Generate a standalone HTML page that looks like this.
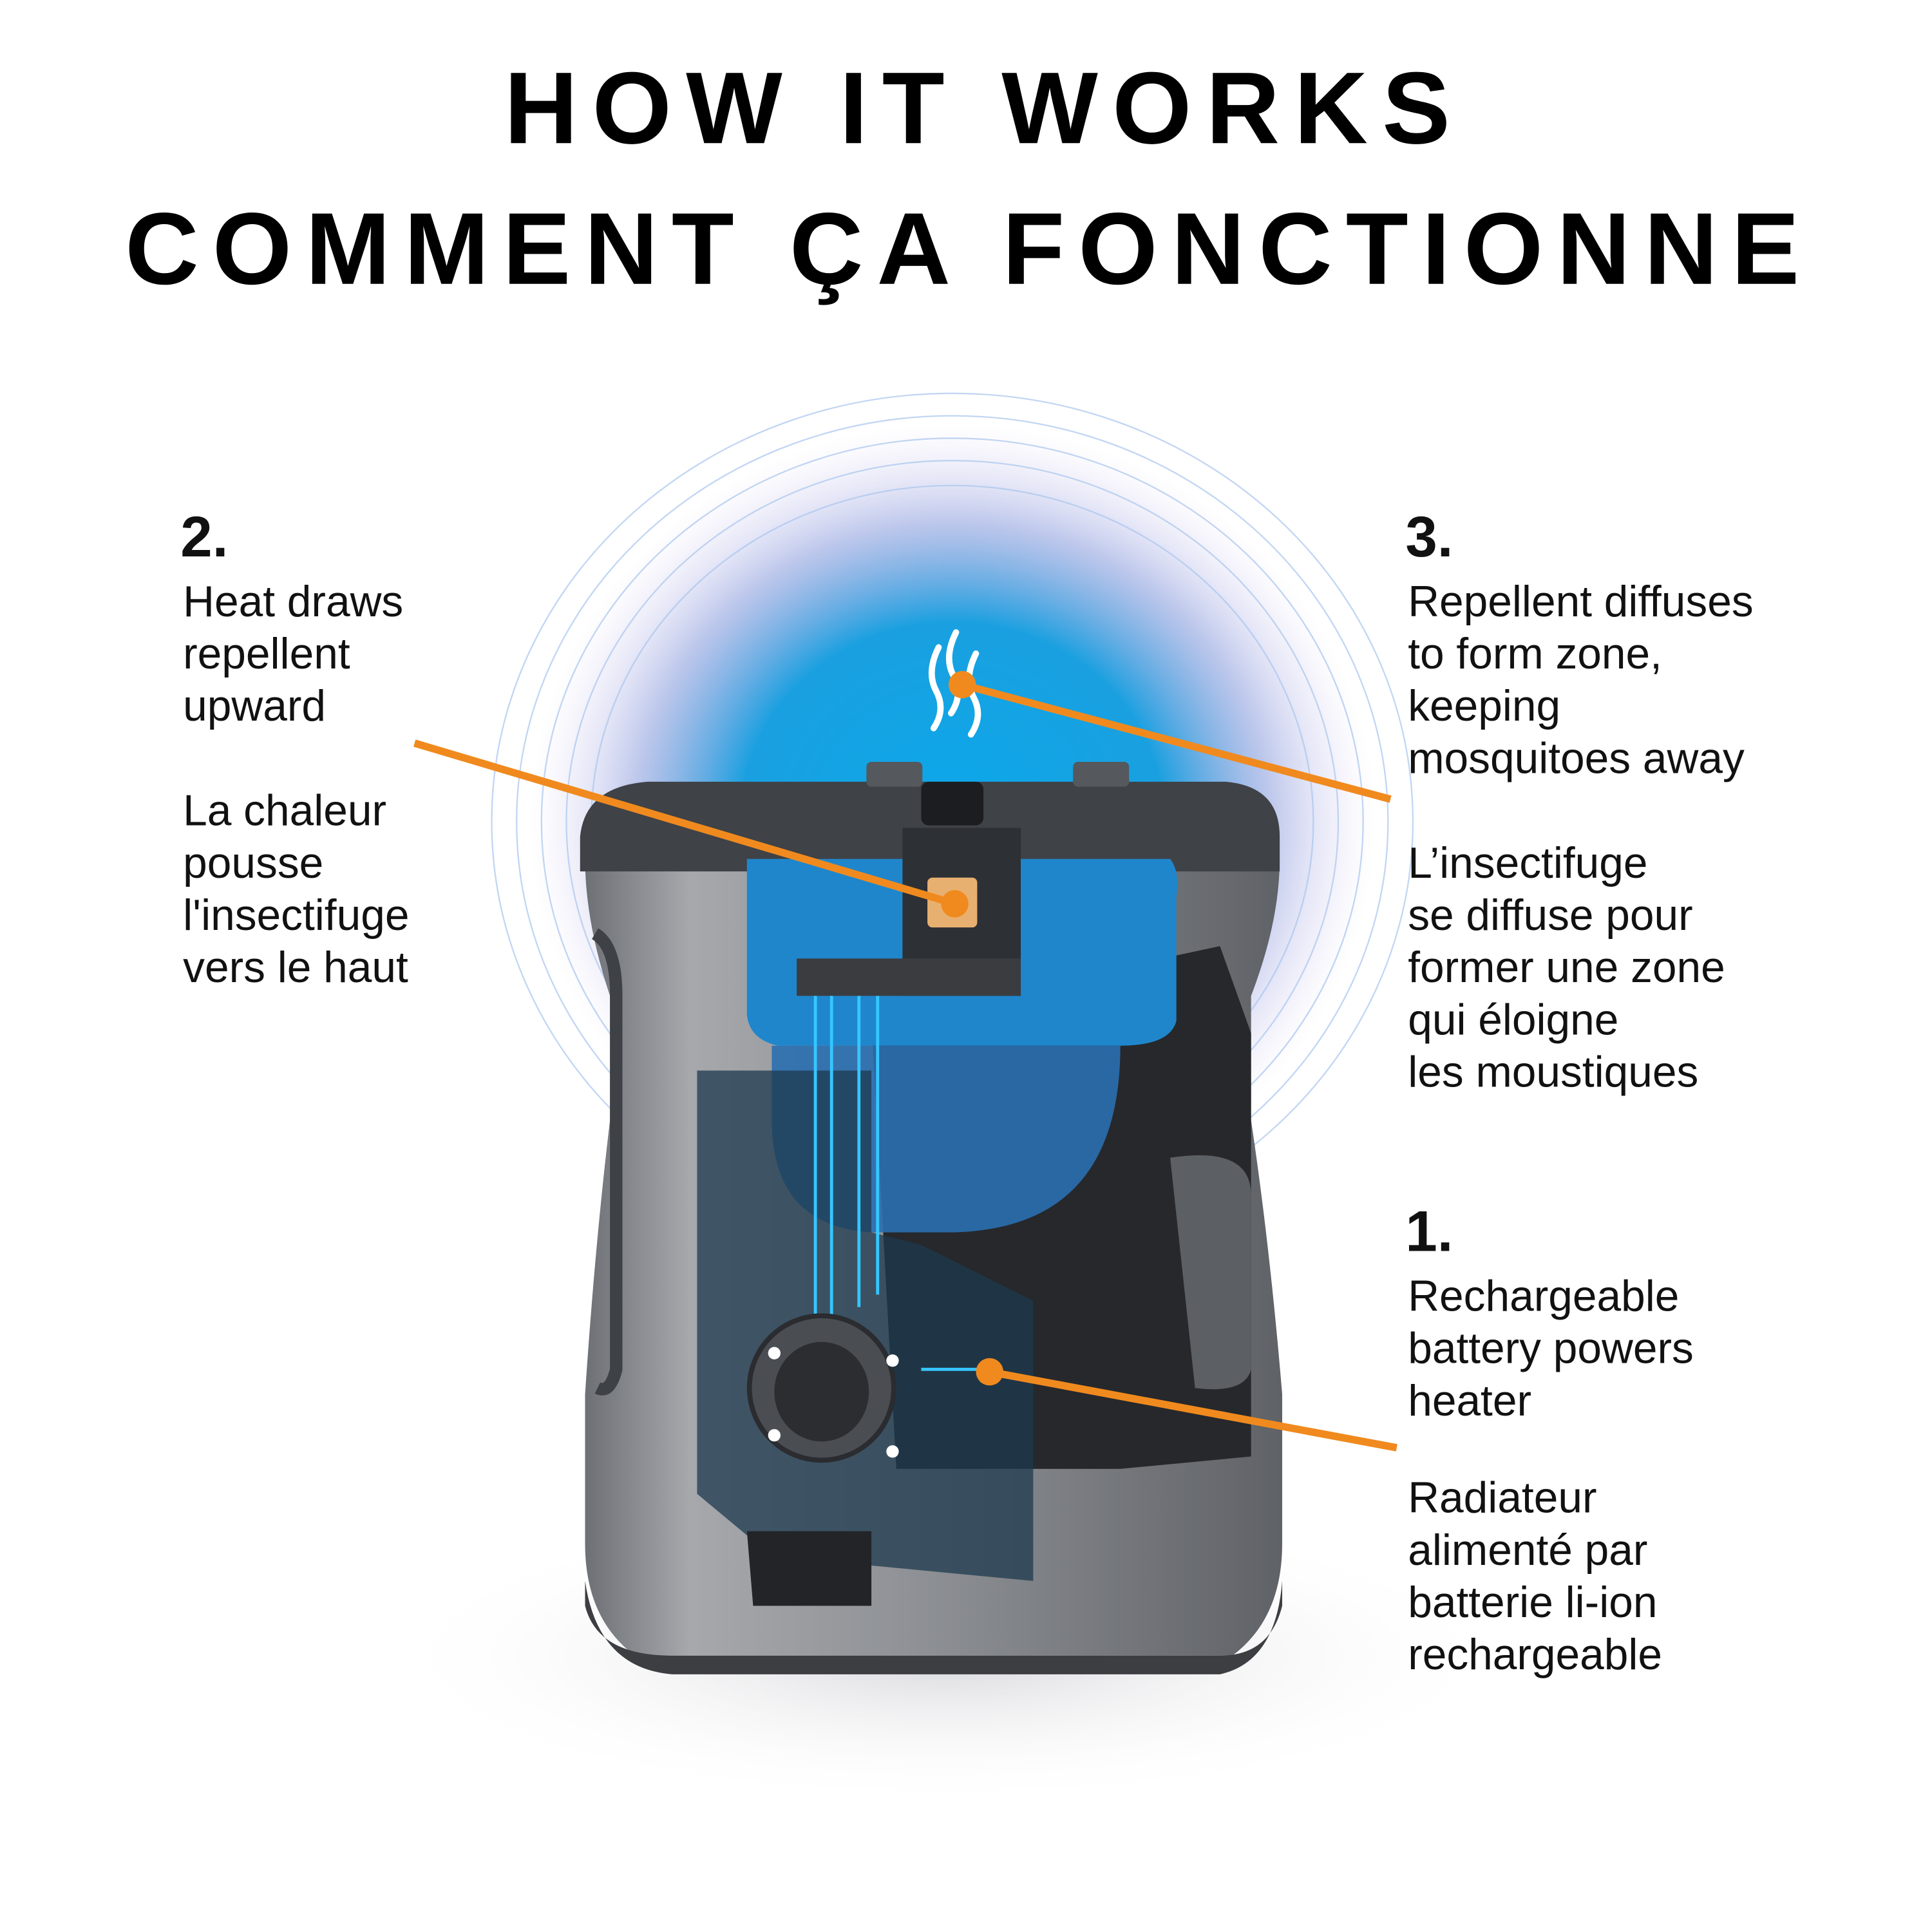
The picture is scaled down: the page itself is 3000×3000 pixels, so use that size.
<!DOCTYPE html>
<html><head><meta charset="utf-8"><style>html,body{margin:0;padding:0;background:#fff}svg{display:block}</style></head>
<body>
<svg width="3000" height="3000" viewBox="0 0 1552 1552" xmlns="http://www.w3.org/2000/svg" font-family="Liberation Sans, sans-serif">
<defs>
<radialGradient id="glow" cx="0.5" cy="0.5" r="0.5">
<stop offset="0" stop-color="#0aa8ea"/><stop offset="0.5" stop-color="#1aa0e0"/><stop offset="0.75" stop-color="#7a8fd8" stop-opacity="0.5"/><stop offset="1" stop-color="#d9c8f0" stop-opacity="0"/>
</radialGradient>
<radialGradient id="shadow" cx="0.5" cy="0.5" r="0.5"><stop offset="0" stop-color="#d8d8dc"/><stop offset="1" stop-color="#fff" stop-opacity="0"/></radialGradient>
<linearGradient id="body" x1="0" x2="1"><stop offset="0" stop-color="#6d7075"/><stop offset="0.15" stop-color="#a6a8ac"/><stop offset="0.5" stop-color="#8c8f93"/><stop offset="1" stop-color="#5f6266"/></linearGradient>
</defs>
<rect width="1552" height="1552" fill="#fff"/>
<ellipse cx="760" cy="1330" rx="460" ry="120" fill="url(#shadow)"/>
<ellipse cx="765" cy="660" rx="340" ry="320" fill="url(#glow)"/>
<g fill="none" stroke="#a9c6ee" stroke-width="1.2" opacity="0.7">
<ellipse cx="765" cy="660" rx="290" ry="270"/><ellipse cx="765" cy="660" rx="310" ry="290"/><ellipse cx="765" cy="660" rx="330" ry="308"/><ellipse cx="765" cy="660" rx="350" ry="326"/><ellipse cx="765" cy="660" rx="370" ry="344"/>
</g>
<text x="785" y="115" text-anchor="middle" font-size="82" font-weight="bold" textLength="760" lengthAdjust="spacing" fill="#000">HOW IT WORKS</text>
<text x="773" y="228" text-anchor="middle" font-size="82" font-weight="bold" textLength="1345" lengthAdjust="spacing" fill="#000">COMMENT ÇA FONCTIONNE</text>
<g font-size="35" fill="#111">
<text x="145" y="447" font-size="46" font-weight="bold">2.</text>
<text x="147" y="495">Heat draws</text><text x="147" y="537">repellent</text><text x="147" y="579">upward</text>
<text x="147" y="663">La chaleur</text><text x="147" y="705">pousse</text><text x="147" y="747">l'insectifuge</text><text x="147" y="789">vers le haut</text>
<text x="1129" y="447" font-size="46" font-weight="bold">3.</text>
<text x="1131" y="495">Repellent diffuses</text><text x="1131" y="537">to form zone,</text><text x="1131" y="579">keeping</text><text x="1131" y="621">mosquitoes away</text>
<text x="1131" y="705">L’insectifuge</text><text x="1131" y="747">se diffuse pour</text><text x="1131" y="789">former une zone</text><text x="1131" y="831">qui éloigne</text><text x="1131" y="873">les moustiques</text>
<text x="1129" y="1005" font-size="46" font-weight="bold">1.</text>
<text x="1131" y="1053">Rechargeable</text><text x="1131" y="1095">battery powers</text><text x="1131" y="1137">heater</text>
<text x="1131" y="1215">Radiateur</text><text x="1131" y="1257">alimenté par</text><text x="1131" y="1299">batterie li-ion</text><text x="1131" y="1341">rechargeable</text>
</g>
<path d="M470 1240 L470 1120 Q478 1000 490 900 Q490 830 490 800 Q470 740 470 690 L1028 690 Q1028 740 1005 800 Q1005 830 1005 900 Q1020 1000 1030 1120 L1030 1240 Q1030 1300 990 1330 L510 1330 Q470 1300 470 1240 Z" fill="url(#body)"/>
<path d="M470 1270 Q480 1340 540 1345 L980 1345 Q1025 1335 1030 1270 L1030 1290 Q1020 1330 980 1330 L540 1330 Q480 1330 470 1290Z" fill="#3c3e42"/>
<path d="M466 672 Q470 632 520 628 L985 628 Q1028 632 1028 672 L1028 700 L466 700 Z" fill="#3f4246"/>
<rect x="696" y="612" width="45" height="20" rx="4" fill="#55585c"/><rect x="862" y="612" width="45" height="20" rx="4" fill="#55585c"/>
<rect x="740" y="628" width="50" height="35" rx="6" fill="#1c1d20"/>
<path d="M700 820 L980 760 L1005 830 L1005 1170 L900 1180 L720 1180 Z" fill="#26282c"/>
<path d="M940 930 Q1005 920 1005 960 L1005 1100 Q1000 1120 960 1115 Z" fill="#5c5f63"/>
<path d="M600 690 L940 690 Q948 700 945 720 L945 820 Q940 840 900 840 L625 840 Q602 835 600 815 Z" fill="#1f86cc"/>
<path d="M620 840 L900 840 Q900 990 760 990 L700 990 Q620 985 620 900 Z" fill="#2a6fb0" opacity="0.9"/>
<path d="M725 665 L820 665 L820 800 L725 800 Z" fill="#2d3035"/>
<rect x="745" y="705" width="40" height="40" rx="4" fill="#e8b070"/>
<path d="M640 770 L820 770 L820 800 L640 800Z" fill="#3a3c40"/>
<path d="M560 860 L700 860 L700 990 L740 1000 L830 1045 L830 1270 L620 1250 L560 1200 Z" fill="#1e3a4e" opacity="0.75"/>
<g stroke="#36c6ff" stroke-width="2.5" fill="none">
<path d="M655 800 L655 1060"/><path d="M668 800 L668 1060"/><path d="M690 800 L690 1050"/><path d="M705 800 L705 1040"/><path d="M740 1100 L790 1100"/>
</g>
<circle cx="660" cy="1115" r="58" fill="#4a4d52" stroke="#2a2c30" stroke-width="4"/>
<ellipse cx="660" cy="1118" rx="38" ry="40" fill="#2b2d31"/>
<g fill="#fff"><circle cx="622" cy="1087" r="5"/><circle cx="717" cy="1093" r="5"/><circle cx="622" cy="1153" r="5"/><circle cx="717" cy="1166" r="5"/></g>
<path d="M600 1230 L700 1230 L700 1290 L605 1290 Z" fill="#222428"/>
<path d="M478 750 Q495 760 495 800 L495 1100 Q490 1120 480 1115" fill="none" stroke="#3e4145" stroke-width="10"/>
<g fill="none" stroke="#fff" stroke-width="5" stroke-linecap="round">
<path d="M754 520 Q744 540 752 555 Q760 570 750 585"/><path d="M768 508 Q758 528 766 543 Q774 558 764 573"/><path d="M784 525 Q774 545 782 560 Q790 575 780 590"/>
</g>
<g stroke="#f08a1e" stroke-width="6" stroke-linecap="butt">
<line x1="333" y1="597" x2="767" y2="726"/><line x1="773" y1="550" x2="1117" y2="642"/><line x1="795" y1="1102" x2="1122" y2="1163"/>
</g>
<g fill="#f08a1e"><circle cx="767" cy="726" r="11"/><circle cx="773" cy="550" r="11"/><circle cx="795" cy="1102" r="11"/></g>
</svg>
</body></html>
